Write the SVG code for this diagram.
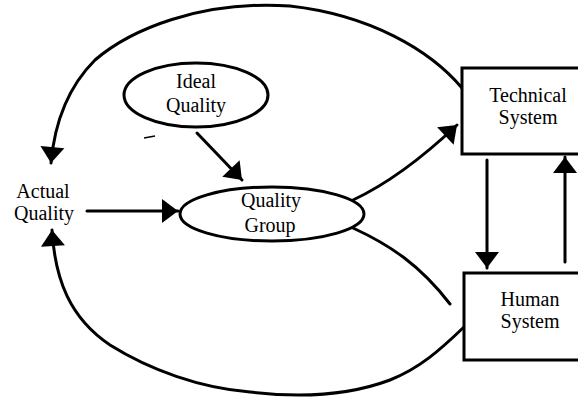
<svg xmlns="http://www.w3.org/2000/svg" width="578" height="398" viewBox="0 0 578 398">
<style>
.t{font-family:"Liberation Serif","Times New Roman",serif;font-size:20px;fill:#000;text-anchor:middle}
.c{fill:none;stroke:#000;stroke-width:3;stroke-linecap:round;stroke-linejoin:round}
.s{fill:#fff;stroke:#000;stroke-width:3}
</style>
<defs>
<marker id="ah" markerUnits="userSpaceOnUse" viewBox="-1 -13 18 26" markerWidth="18" markerHeight="26" refX="16" refY="0" orient="auto">
<path d="M0,-12 L16,0 L0,12 z" fill="#000"/>
</marker>
</defs>
<rect width="578" height="398" fill="#fff"/>
<g id="connectors">
<path class="c" d="M462,88 C430,50 370,15 290,6 C200,0 130,30 95,60 C70,85 55,118 51,163" marker-end="url(#ah)"/>
<path class="c" d="M464,327 C440,350 420,368 390,380 C350,395 300,398 250,392 C200,388 150,370 110,345 C70,318 55,280 52,230" marker-end="url(#ah)"/>
<path class="c" d="M87,211 L178,211" marker-end="url(#ah)"/>
<path class="c" d="M197,133 L242,180" marker-end="url(#ah)"/>
<path class="c" d="M353,200 C385,185 420,160 457,125" marker-end="url(#ah)"/>
<path class="c" d="M353,228 C390,245 420,265 450,304"/>
<path class="c" d="M487,160 L487,268" marker-end="url(#ah)"/>
<path class="c" d="M565,262 L565,157" marker-end="url(#ah)"/>
<path d="M144,138 L155,136" stroke="#000" stroke-width="1.5" fill="none"/>
</g>
<g id="ideal-quality">
<ellipse class="s" cx="196" cy="95" rx="72" ry="32"/>
<text class="t" x="196" y="88">Ideal</text>
<text class="t" x="196" y="112">Quality</text>
</g>
<g id="quality-group">
<ellipse class="s" cx="272" cy="214" rx="92" ry="27"/>
<text class="t" x="271" y="207">Quality</text>
<text class="t" x="270" y="232">Group</text>
</g>
<g id="actual-quality">
<text class="t" x="43" y="198">Actual</text>
<text class="t" x="44" y="220">Quality</text>
</g>
<g id="technical-system">
<rect class="s" x="462" y="68" width="130" height="86"/>
<text class="t" x="528" y="102">Technical</text>
<text class="t" x="528" y="124">System</text>
</g>
<g id="human-system">
<rect class="s" x="464" y="273" width="130" height="87"/>
<text class="t" x="530" y="306">Human</text>
<text class="t" x="530" y="328">System</text>
</g>
</svg>
